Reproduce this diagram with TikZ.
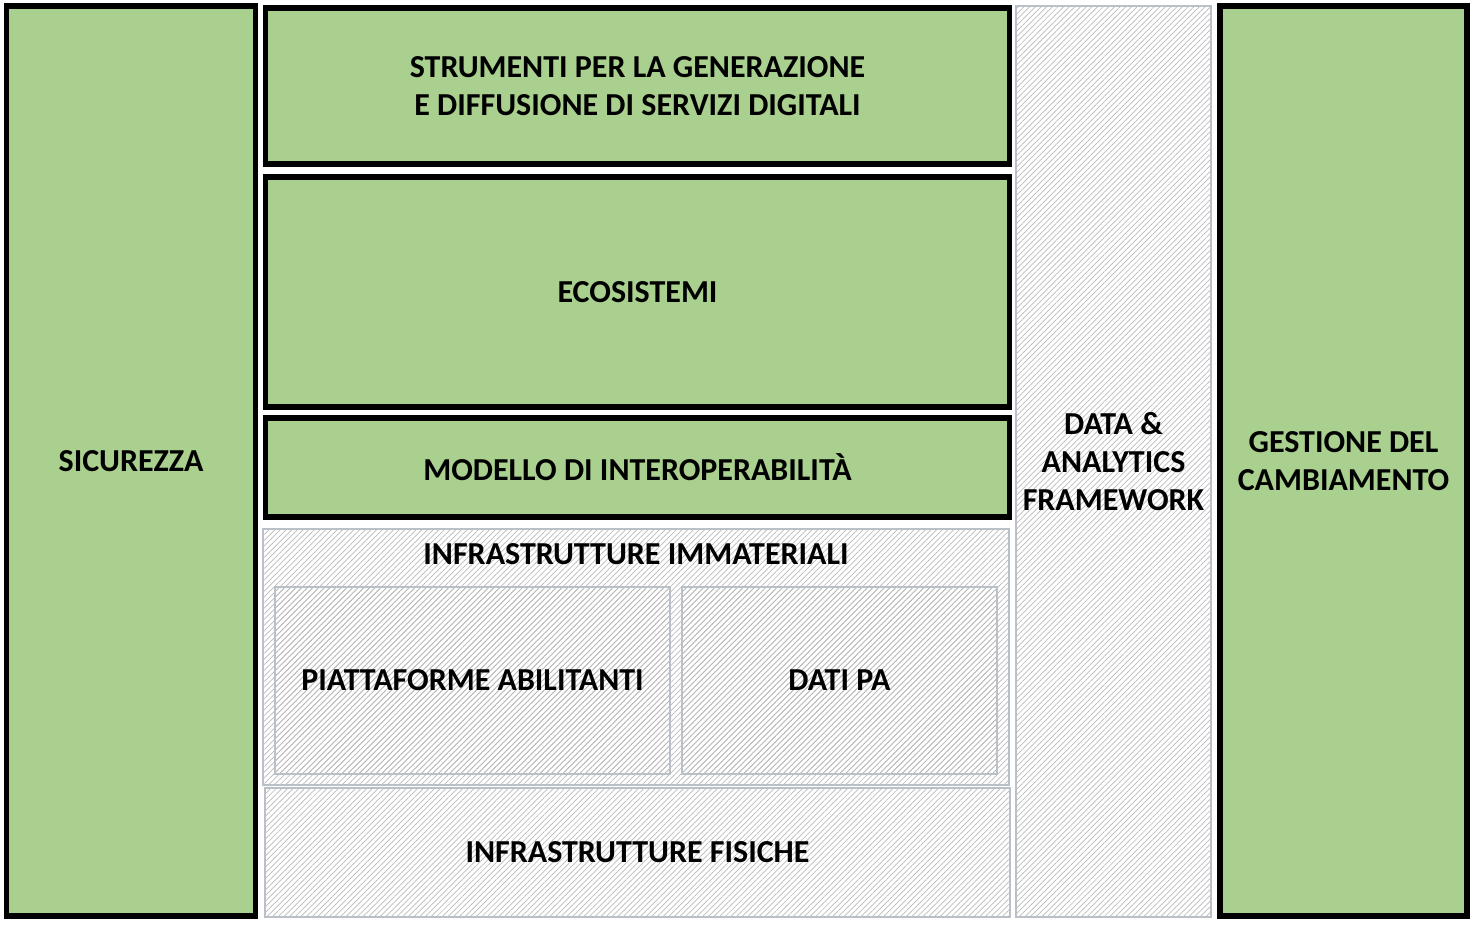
\documentclass[tikz,border=0pt]{standalone}
\usepackage{fontspec}
\setmainfont{Carlito}
\usetikzlibrary{patterns.meta}
\definecolor{layergreen}{RGB}{169,208,142}
\definecolor{hatchgray}{RGB}{185,185,185}
\definecolor{framegray}{RGB}{185,192,200}
\begin{document}
\begin{tikzpicture}[x=0.5pt, y=-0.5pt, every node/.style={font=\bfseries\fontsize{16}{19}\selectfont, align=center, inner sep=0pt, outer sep=0pt},
  greenbox/.style={draw=black, line width=2.9pt, fill=layergreen},
  hatchbox/.style={draw=framegray, line width=0.6pt, pattern={Lines[angle=45,distance=2pt,line width=0.35pt]}, pattern color=hatchgray}]
\useasboundingbox (0,0) rectangle (1480,929);
% side columns
\node[greenbox, minimum width=124.5pt, minimum height=454.75pt] (sic) at (131,461) {SICUREZZA};
\node[greenbox, minimum width=123.5pt, minimum height=454.75pt] (ges) at (1343.5,461) {GESTIONE DEL\\CAMBIAMENTO};
\node[hatchbox, minimum width=97.5pt, minimum height=455.5pt] (dafw) at (1113.5,461.5) {DATA \&\\ANALYTICS\\FRAMEWORK};
% central stack
\node[greenbox, minimum width=372pt, minimum height=78pt] (stru) at (637.5,86) {STRUMENTI PER LA GENERAZIONE\\E DIFFUSIONE DI SERVIZI DIGITALI};
\node[greenbox, minimum width=372pt, minimum height=115pt] (eco) at (637.5,292) {ECOSISTEMI};
\node[greenbox, minimum width=372pt, minimum height=49.5pt] (mod) at (637.5,467.5) {MODELLO DI INTEROPERABILIT\`A};
\node[hatchbox, minimum width=373pt, minimum height=128pt] (imm) at (636,657) {};
\node[anchor=center] (immlab) at (636,554) {INFRASTRUTTURE IMMATERIALI};
\node[hatchbox, minimum width=197.5pt, minimum height=93.5pt] (pia) at (472.5,680.5) {PIATTAFORME ABILITANTI};
\node[hatchbox, minimum width=157.5pt, minimum height=93.5pt] (dat) at (839.5,680.5) {DATI PA};
\node[hatchbox, minimum width=372.5pt, minimum height=64.5pt] (fis) at (637.5,852.5) {INFRASTRUTTURE FISICHE};
\end{tikzpicture}
\end{document}
